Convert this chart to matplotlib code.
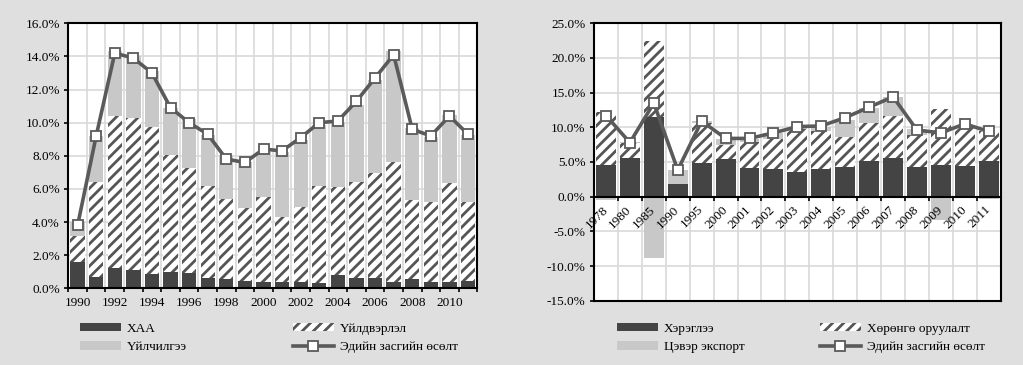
import numpy as np
import matplotlib
matplotlib.use('Agg')
import matplotlib.pyplot as plt

# left chart: GDP growth by sector
years_l = list(range(1990, 2012))
xaa = [1.6, 0.66, 1.25, 1.1, 0.87, 1.0, 0.95, 0.64, 0.58, 0.44, 0.36, 0.4, 0.4, 0.34, 0.8, 0.6, 0.6, 0.4, 0.54, 0.4, 0.4, 0.44]
industry = [1.58, 5.78, 9.17, 9.16, 8.89, 7.05, 6.29, 5.56, 4.79, 4.39, 5.17, 3.89, 4.53, 5.86, 5.3, 5.84, 6.38, 7.2, 4.79, 4.83, 5.94, 4.79]
services = [0.82, 2.76, 3.88, 3.74, 3.34, 2.85, 2.96, 3.05, 2.68, 2.82, 2.72, 3.96, 4.02, 3.66, 3.96, 4.63, 5.62, 6.7, 4.33, 3.92, 4.12, 4.02]
growth_l = [3.8, 9.2, 14.2, 13.9, 13.0, 10.9, 10.0, 9.3, 7.8, 7.6, 8.4, 8.3, 9.1, 10.0, 10.1, 11.3, 12.7, 14.1, 9.6, 9.2, 10.4, 9.3]

# right chart: GDP growth by expenditure
cats_r = ['1978', '1980', '1985', '1990', '1995', '2000', '2001', '2002', '2003',
          '2004', '2005', '2006', '2007', '2008', '2009', '2010', '2011']
cons = [4.57, 5.58, 11.5, 1.78, 4.9, 5.48, 4.18, 4.0, 3.6, 3.94, 4.33, 5.14, 5.53, 4.23, 4.5, 4.42, 5.14]
inv = [7.6, 2.1, 10.95, 0.0, 5.75, 1.97, 3.75, 4.27, 6.1, 5.56, 4.32, 5.53, 6.07, 4.67, 8.1, 5.88, 4.26]
netexp = [-0.5, 0.15, -8.9, 2.07, 0.3, 0.92, 0.4, 0.9, 0.4, 0.6, 2.35, 2.1, 2.8, 0.8, -3.4, 0.1, -0.3]
growth_r = [11.7, 7.8, 13.5, 3.85, 10.9, 8.4, 8.4, 9.2, 10.1, 10.2, 11.4, 12.9, 14.4, 9.6, 9.2, 10.5, 9.4]

dark = '#444444'
light = '#c8c8c8'
hatchc = '#555555'
linec = '#5a5a5a'
bg = '#dfdfdf'
grid = '#d9d9d9'

plt.rcParams['font.family'] = ['Liberation Serif', 'DejaVu Serif']
plt.rcParams['font.size'] = 9.5
plt.rcParams['hatch.linewidth'] = 2.0

fig = plt.figure(figsize=(10.23, 3.65), dpi=100, facecolor=bg)


def style_axes(ax, n, yticks):
    ax.set_xlim(-0.5, n - 0.5)
    # grid drawn by hand so the axis (tick labels) stays above the bars
    for v in yticks:
        ax.axhline(v, color=grid, lw=1.2, zorder=0)
    for b in np.arange(0.5, n - 0.5):
        ax.axvline(b, color=grid, lw=1.2, zorder=0)
    for s in ax.spines.values():
        s.set_linewidth(1.5)
        s.set_color('black')
    ax.set_yticks(yticks)
    ax.set_yticklabels(['%.1f%%' % v for v in yticks])
    ax.set_ylim(yticks[0], yticks[-1])
    ax.set_xticks(np.arange(-0.5, n), minor=True)
    ax.tick_params(axis='x', which='minor', length=3, width=1.2, direction='out')
    ax.tick_params(axis='x', which='major', length=0)
    ax.tick_params(axis='y', length=3, width=1.2, pad=3)


def add_legend(items, x, y):
    h, l = zip(*items)
    fig.legend(h, l, loc='center left', bbox_to_anchor=(x / 1023, 1 - y / 365),
               frameon=False, handlelength=3.1, handleheight=0.6, handletextpad=0.45,
               labelspacing=0.5, borderpad=0, borderaxespad=0, numpoints=1)


# ---- left ----
ax1 = fig.add_axes([68.3 / 1023, 1 - 288.3 / 365, 409 / 1023, 265 / 365])
x = np.arange(len(years_l))
w = 0.77
b1 = ax1.bar(x, xaa, w, color=dark, lw=0)
b2 = ax1.bar(x, industry, w, bottom=xaa, facecolor='white', edgecolor=hatchc, hatch='///', lw=0)
bot = np.array(xaa) + np.array(industry)
b3 = ax1.bar(x, services, w, bottom=bot, color=light, lw=0)
l1, = ax1.plot(x, growth_l, color=linec, lw=2.6, marker='s', ms=6.5, mfc='white', mec=linec, mew=1.3)
style_axes(ax1, len(years_l), np.arange(0, 17, 2))
ax1.set_xticks(x[::2])
ax1.set_xticklabels([str(y) for y in years_l[::2]])
ax1.tick_params(axis='x', which='major', pad=6)

add_legend([(b1, 'ХАА'), (b3, 'Үйлчилгээ')], 80, 338)
add_legend([(b2, 'Үйлдвэрлэл'), (l1, 'Эдийн засгийн өсөлт')], 293, 338)

# ---- right ----
ax2 = fig.add_axes([594 / 1023, 1 - 300.7 / 365, 406.7 / 1023, 277.4 / 365])
x = np.arange(len(cats_r))
w = 0.83
c1 = ax2.bar(x, cons, w, color=dark, lw=0)
c2 = ax2.bar(x, inv, w, bottom=cons, facecolor='white', edgecolor=hatchc, hatch='///', lw=0)
pos = np.array(cons) + np.array(inv)
ne = np.array(netexp)
c3 = ax2.bar(x, ne, w, bottom=np.where(ne > 0, pos, 0), color=light, lw=0)
l2, = ax2.plot(x, growth_r, color=linec, lw=2.6, marker='s', ms=6.5, mfc='white', mec=linec, mew=1.3)
style_axes(ax2, len(cats_r), np.arange(-15, 26, 5))
ax2.spines['bottom'].set_position(('data', 0))
ax2.plot([0, 1], [0, 0], transform=ax2.transAxes, color='black', lw=1.5, clip_on=False)
ax2.set_xticks(x)
ax2.set_xticklabels(cats_r, rotation=45, ha='right', va='center', rotation_mode='anchor')
ax2.tick_params(axis='x', which='major', pad=8)

add_legend([(c1, 'Хэрэглээ'), (c3, 'Цэвэр экспорт')], 617, 338)
add_legend([(c2, 'Хөрөнгө оруулалт'), (l2, 'Эдийн засгийн өсөлт')], 820, 338)

fig.savefig('out.png', dpi=100, facecolor=bg)
